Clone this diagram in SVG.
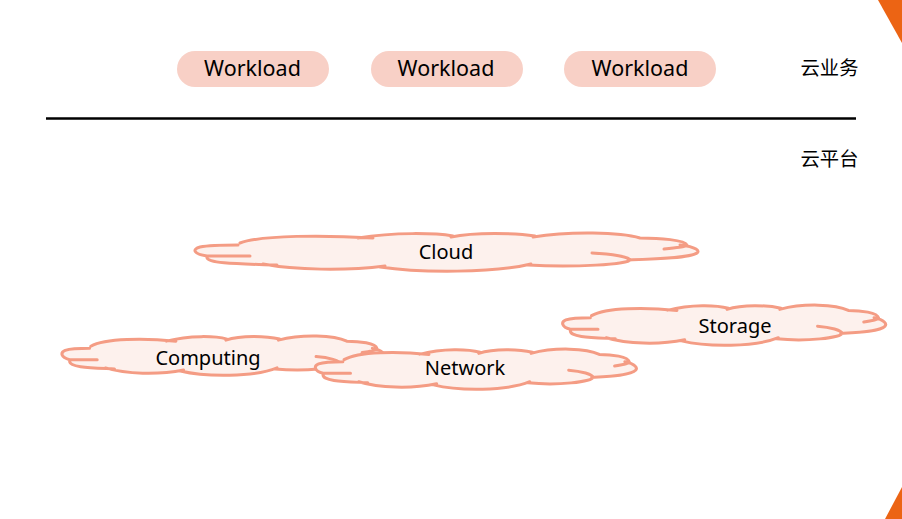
<svg xmlns="http://www.w3.org/2000/svg" width="902" height="519" viewBox="0 0 902 519">
<style>
text{font-family:"Noto Sans","Noto Sans CJK SC",sans-serif;fill:#000;text-anchor:middle}
.pill{fill:#f8d0c6}
.wl{font-size:21.5px}
.cn{font-size:19.300px;font-family:"Noto Sans CJK SC",sans-serif}
.cl{font-size:20px}
.cf{fill:#fdf1ed;stroke:none}
.cs{fill:none;stroke:#f49c84;stroke-width:3;stroke-linecap:round;vector-effect:non-scaling-stroke}
.corner{fill:#ec6414}
</style>
<defs>
<g id="cloudShape">
<path class="cf" d="M240,243C262,235 325,235 372,238C395,232 435,233 453,236C475,232 515,233 535,236C570,231 620,232 640,238C660,238 685,240 687,245C697,247 700,251 697,253C690,258 655,259 630,260C628,264 575,268 528,265C495,273 420,273 380,267C345,271 295,270 277,265C245,264 205,264 207,257C193,254 192,248 200,247C210,245 225,245 238,245Z"/>
<path class="cs" d="M238,245C225,245 210,245 200,247C192,249 193,254 207,256C218,256 235,256 250,256M240,243C262,235 325,235 373,238M358,238C395,232 435,233 453,236M451,237C475,232 515,233 535,236M533,237C570,231 620,232 640,238C660,238 685,240 687,245C686,247 675,248 664,249M680,245C697,247 700,251 697,253C690,258 655,259 628,260M592,253C612,254 630,257 630,260C628,264 575,268 528,265M531,264C495,273 420,273 380,267M385,266C345,271 295,270 263,264M277,265C245,264 205,264 207,257"/>
</g>
</defs>
<polygon class="corner" points="878,0 902,0 902,43"/>
<polygon class="corner" points="885,519 902,487 902,519"/>
<g id="workload-1"><rect class="pill" x="177" y="51" width="152" height="36" rx="18"/><text class="wl" x="252.500" y="76">Workload</text></g>
<g id="workload-2"><rect class="pill" x="371" y="51" width="152" height="36" rx="18"/><text class="wl" x="446" y="76">Workload</text></g>
<g id="workload-3"><rect class="pill" x="564" y="51" width="152" height="36" rx="18"/><text class="wl" x="640" y="76">Workload</text></g>
<g id="label-cloud-service"><text class="cn" x="829.500" y="75">云业务</text></g>
<g id="label-cloud-platform"><text class="cn" x="829.500" y="166">云平台</text></g>
<g id="connectors"><line x1="46" y1="118.500" x2="856" y2="118.500" stroke="#000" stroke-width="2.600"/></g>
<g id="cloud"><use href="#cloudShape"/><text class="cl" x="446" y="259">Cloud</text></g>
<g id="computing"><use href="#cloudShape" transform="translate(-62.800,96) scale(0.64,1.03)"/><text class="cl" x="208" y="365">Computing</text></g>
<g id="storage"><use href="#cloudShape" transform="translate(437.500,60.500) scale(0.642,1.05)"/><text class="cl" x="735" y="333">Storage</text></g>
<g id="network"><use href="#cloudShape" transform="translate(191,104.500) scale(0.638,1.05)"/><text class="cl" x="465" y="375">Network</text></g>
</svg>
